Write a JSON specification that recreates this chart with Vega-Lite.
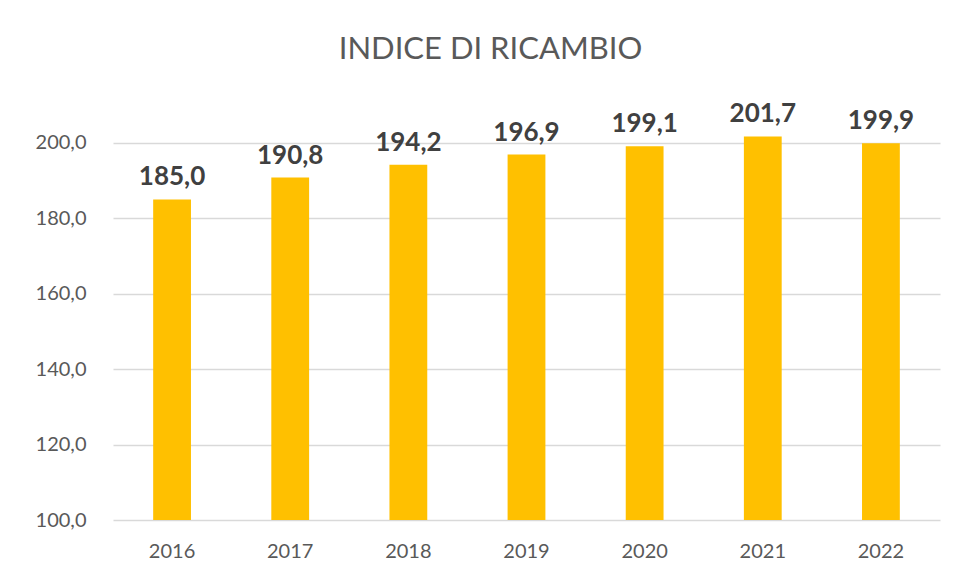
{
  "$schema": "https://vega.github.io/schema/vega-lite/v6.json",
  "autosize": "none",
  "width": 827,
  "height": 396,
  "padding": {"left": 113, "top": 124, "right": 18, "bottom": 59},
  "background": "white",
  "title": {
    "text": "INDICE DI RICAMBIO",
    "font": "Lato",
    "fontSize": 31,
    "fontWeight": "normal",
    "color": "#595959",
    "anchor": "middle",
    "baseline": "bottom",
    "offset": 4,
    "dx": -36
  },
  "data": {
    "values": [
      {"anno": "2016", "valore": 185.0},
      {"anno": "2017", "valore": 190.8},
      {"anno": "2018", "valore": 194.2},
      {"anno": "2019", "valore": 196.9},
      {"anno": "2020", "valore": 199.1},
      {"anno": "2021", "valore": 201.7},
      {"anno": "2022", "valore": 199.9}
    ]
  },
  "encoding": {
    "x": {
      "field": "anno",
      "type": "nominal",
      "sort": null,
      "scale": {"paddingInner": 0.68, "paddingOuter": 0.34},
      "axis": {
        "title": null,
        "labelAngle": 0,
        "domain": false,
        "ticks": false,
        "labelFont": "Lato",
        "labelFontSize": 20,
        "labelColor": "#595959",
        "labelPadding": 21
      }
    },
    "y": {
      "field": "valore",
      "type": "quantitative",
      "scale": {"domain": [100, 205], "nice": false, "zero": false},
      "axis": {
        "title": null,
        "values": [100, 120, 140, 160, 180, 200],
        "format": ".1f",
        "domain": false,
        "ticks": false,
        "grid": true,
        "gridColor": "#d9d9d9",
        "gridWidth": 1.5,
        "labelFont": "Lato",
        "labelFontSize": 20,
        "labelColor": "#595959",
        "labelPadding": 27
      }
    }
  },
  "layer": [
    {"mark": {"type": "bar", "color": "#FFC000", "clip": true}},
    {
      "mark": {
        "type": "text",
        "font": "Lato",
        "fontSize": 26,
        "fontWeight": "bold",
        "color": "#404040",
        "baseline": "alphabetic",
        "dy": -14
      },
      "encoding": {"text": {"field": "valore", "type": "quantitative", "format": ".1f"}}
    }
  ],
  "config": {
    "view": {"stroke": null},
    "locale": {
      "number": {
        "decimal": ",",
        "thousands": ".",
        "grouping": [3],
        "currency": ["", " €"]
      }
    }
  }
}
